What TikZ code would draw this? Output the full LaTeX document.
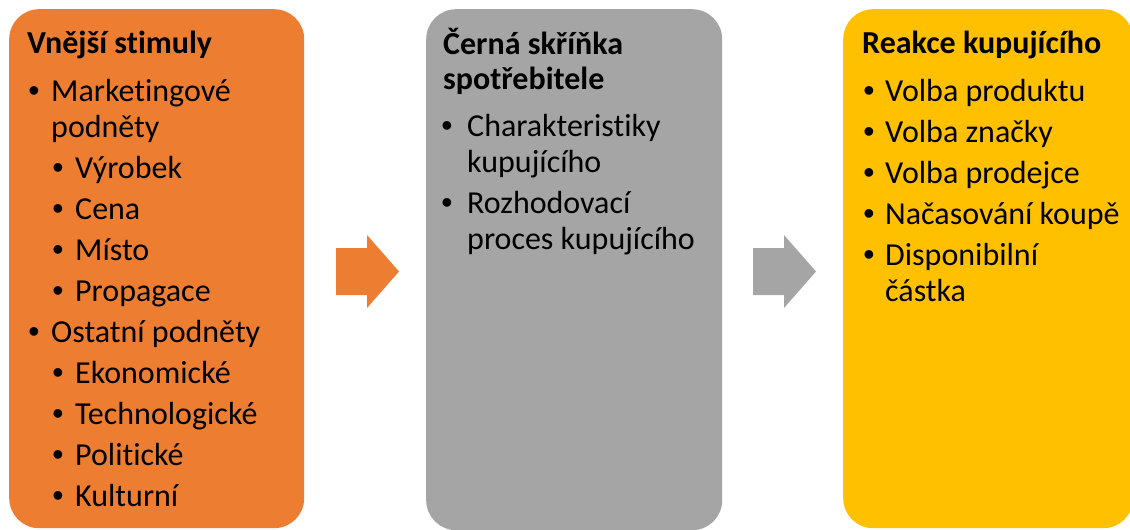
\documentclass[tikz,border=0pt]{standalone}
\usepackage{fontspec}
\setmainfont{Carlito}[Ligatures=CommonOff]
\newfontfamily\bulletfont{Liberation Sans}
\definecolor{stimorange}{HTML}{ED7D31}
\definecolor{boxgray}{HTML}{A5A5A5}
\definecolor{reactyellow}{HTML}{FFC000}

\tikzset{
  panel/.style={rounded corners=30pt,inner sep=0pt,anchor=north west},
  head/.style={anchor=base west,inner sep=0pt,font=\fontsize{32}{38}\selectfont\bfseries},
  txt/.style={anchor=base west,inner sep=0pt,font=\fontsize{32}{38}\selectfont},
  dot/.style={anchor=base,inner sep=0pt,font=\fontsize{32}{38}\bulletfont},
}

\begin{document}
\begin{tikzpicture}
  [x=1pt,y=-1pt]
  \useasboundingbox (0,0) rectangle (1130,530);

  % the three panels
  \node[panel,fill=stimorange,minimum width=295pt,minimum height=519pt] (stimuli) at (9,9) {};
  \node[panel,fill=boxgray,minimum width=296pt,minimum height=521pt] (blackbox) at (426,9) {};
  \node[panel,fill=reactyellow,minimum width=290pt,minimum height=519pt] (reaction) at (843,9) {};

  % block arrows between them
  \foreach \dx/\col in {0/stimorange, 417/boxgray}
    \fill[\col,shift={(\dx,0)}] (336,248) -- (367,248) -- (367,235) -- (399,271.5)
      -- (367,308) -- (367,295) -- (336,295) -- cycle;

  % headings
  \node[head] (h1) at (27,53) {Vnější stimuly};
  \node[head] (h2) at (443,54) {Černá skříňka};
  \node[head] (h2b) at (443,89) {spotřebitele};
  \node[head] (h3) at (862,53) {Reakce kupujícího};

  % bullets
  \foreach \x/\y [count=\i] in {34/101, 58/178, 58/219, 58/260, 58/301, 34/342,
      58/383, 58/424, 58/465, 58/506, 447/136, 447/213, 869/101, 869/142, 869/183,
      869/224, 869/265}
    \node[dot] (dot\i) at (\x,\y) {•};

  % item texts
  \foreach \x/\y/\t [count=\i] in {51/101/Marketingové, 51/137/podněty,
      75/178/Výrobek, 75/219/Cena, 75/260/Místo, 75/301/Propagace,
      51/342/Ostatní podněty, 75/383/Ekonomické, 75/424/Technologické,
      75/465/Politické, 75/506/Kulturní,
      467/136/Charakteristiky, 467/172/kupujícího, 467/213/Rozhodovací,
      467/249/proces kupujícího,
      885/101/Volba produktu, 885/142/Volba značky, 885/183/Volba prodejce,
      885/224/Načasování koupě, 885/265/Disponibilní, 885/301/částka}
    \node[txt] (item\i) at (\x,\y) {\t};

\end{tikzpicture}
\end{document}
